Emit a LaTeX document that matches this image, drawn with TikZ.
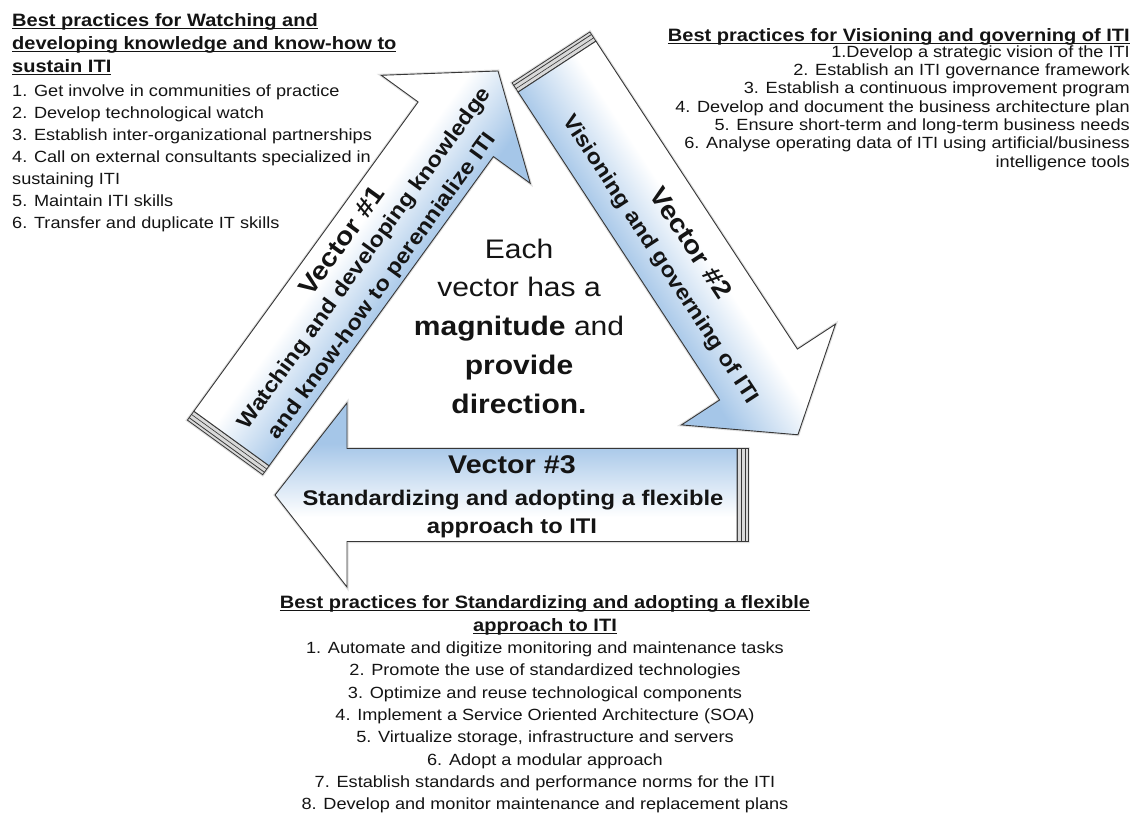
\documentclass[tikz,border=0pt]{standalone}
\usepackage{fontspec}
\setmainfont{Liberation Sans}[FakeStretch=1.12]
\definecolor{vblue}{RGB}{165,198,232}
\definecolor{edgec}{RGB}{55,55,55}
\definecolor{txt}{RGB}{20,20,20}
\pgfdeclareverticalshading{arrowshade}{100bp}{color(0bp)=(vblue); color(36bp)=(vblue); color(47bp)=(vblue!45!white); color(56bp)=(white); color(100bp)=(white)}
\newcommand{\myul}[1]{\setbox0\hbox{#1}\rlap{\rule[-2.6pt]{\wd0}{0.9pt}}\box0}
\newcommand{\vecarrow}[4]{%
  \begin{scope}[transform canvas={shift={(#1,#2)},rotate=#3}]
    \draw[arrowshadow] (-11,-46.5) -- (0,-46.5) -- ({#4-72},-46.5) -- ({#4-72},-92) -- (#4,0)
      -- ({#4-72},92) -- ({#4-72},46.5) -- (-11,46.5) -- cycle;
    \filldraw[tailband] (-11,-46.5) rectangle (0,46.5);
    \draw[edgec, line width=0.6pt] (-4,-46.5) -- (-4,46.5);
    \draw[edgec, line width=0.8pt] (-8,-46.5) -- (-8,46.5);
    \shade[arrowbody] (0,-46.5) -- ({#4-72},-46.5) -- ({#4-72},-92) -- (#4,0)
      -- ({#4-72},92) -- ({#4-72},46.5) -- (0,46.5) -- cycle;
  \end{scope}}
\tikzset{
  arrowbody/.style={draw=edgec, line width=0.9pt, shading=arrowshade, line join=miter},
  arrowshadow/.style={draw=gray!25, line width=3pt, line join=miter},
  tailband/.style={draw=edgec, line width=0.8pt, fill=gray!30},
  vlab/.style={font=\bfseries\fontsize{25.6}{30}\selectfont, inner sep=0pt, text=txt},
  vsub/.style={font=\bfseries\fontsize{21.2}{25}\selectfont, inner sep=0pt, text=txt},
  blk/.style={inner sep=0pt, text=txt}
}
\begin{document}
\begin{tikzpicture}[x=1pt,y=-1pt]
\useasboundingbox (0,0) rectangle (1138,815);
\fill[white] (0,0) rectangle (1138,815);

% arrows
\vecarrow{231.5}{438.5}{54.05}{454}
\vecarrow{557}{66.6}{-56.8}{440}
\vecarrow{737}{495}{180}{462}

% arrow 1 text
\begin{scope}[shift={(231.5,438.5)}, rotate=54.05, transform shape]
  \node[vlab] (v1t) at (225,-27) {Vector \#1};
  \node[vsub] (v1a) at (224,2.7) {Watching and developing knowledge};
  \node[vsub] (v1b) at (212,33) {and know-how to perennialize ITI};
\end{scope}
% arrow 2 text
\begin{scope}[shift={(557,66.6)}, rotate=-56.8, transform shape]
  \node[vlab] (v2t) at (221,-15.8) {Vector \#2};
  \node[vsub] (v2a) at (218,19.5) {Visioning and governing of ITI};
\end{scope}
% arrow 3 text
\node[vlab, anchor=base] (v3t) at (512,473.5) {Vector \#3};
\node[vsub, anchor=base] (v3a) at (513,505) {Standardizing and adopting a flexible};
\node[vsub, anchor=base] (v3b) at (512,533) {approach to ITI};

% centre text
\node[blk, anchor=base] (ctr) at (519,258) {\fontsize{26.8}{38.8}\selectfont\begin{tabular}[t]{@{}c@{}}Each\\ vector has a\\ \textbf{magnitude} and\\ \textbf{provide}\\ \textbf{direction.}\end{tabular}};

% top-left block
\node[blk, anchor=base west] (t1) at (12,26.5) {\bfseries\fontsize{17.9}{23}\selectfont\begin{tabular}[t]{@{}l@{}}\myul{Best practices for Watching and}\\ \myul{developing knowledge and know-how to}\\ \myul{sustain ITI}\end{tabular}};
\node[blk, anchor=base west] (l1) at (12,96.7) {\fontsize{16.2}{21.9}\selectfont\begin{tabular}[t]{@{}l@{}}1. Get involve in communities of practice\\ 2. Develop technological watch\\ 3. Establish inter-organizational partnerships\\ 4. Call on external consultants specialized in\\ sustaining ITI\\ 5. Maintain ITI skills\\ 6. Transfer and duplicate IT skills\end{tabular}};

% top-right block
\node[blk, anchor=base east] (t2) at (1130,41.7) {\bfseries\fontsize{17.9}{23}\selectfont\myul{Best practices for Visioning and governing of ITI}};
\node[blk, anchor=base east] (l2) at (1130,57.3) {\fontsize{16.2}{18.3}\selectfont\begin{tabular}[t]{@{}r@{}}1.Develop a strategic vision of the ITI\\ 2. Establish an ITI governance framework\\ 3. Establish a continuous improvement program\\ 4. Develop and document the business architecture plan\\ 5. Ensure short-term and long-term business needs\\ 6. Analyse operating data of ITI using artificial/business\\ intelligence tools\end{tabular}};

% bottom block
\node[blk, anchor=base] (t3) at (545,608.5) {\bfseries\fontsize{17.9}{22.5}\selectfont\begin{tabular}[t]{@{}c@{}}\myul{Best practices for Standardizing and adopting a flexible}\\ \myul{approach to ITI}\end{tabular}};
\node[blk, anchor=base] (l3) at (545,653.5) {\fontsize{16.2}{22.3}\selectfont\begin{tabular}[t]{@{}c@{}}1. Automate and digitize monitoring and maintenance tasks\\ 2. Promote the use of standardized technologies\\ 3. Optimize and reuse technological components\\ 4. Implement a Service Oriented Architecture (SOA)\\ 5. Virtualize storage, infrastructure and servers\\ 6. Adopt a modular approach\\ 7. Establish standards and performance norms for the ITI\\ 8. Develop and monitor maintenance and replacement plans\end{tabular}};
\end{tikzpicture}
\end{document}
